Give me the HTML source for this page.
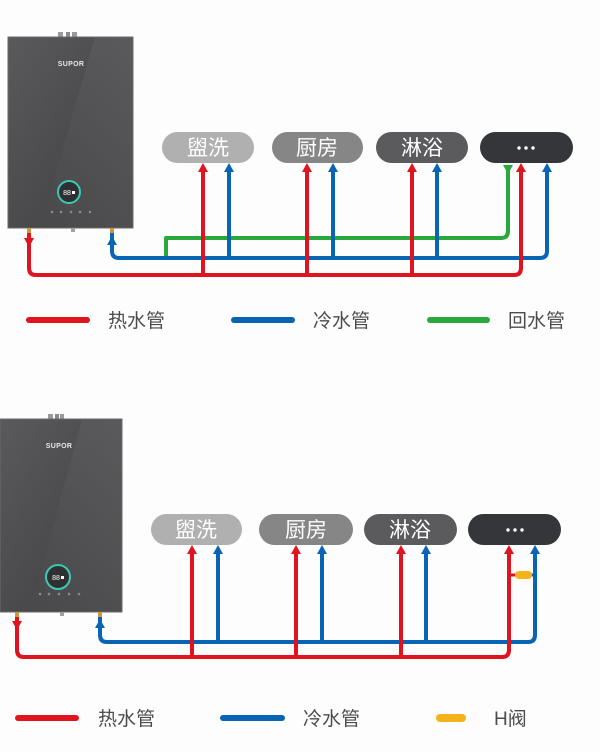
<!DOCTYPE html>
<html>
<head>
<meta charset="utf-8">
<style>
  html,body{margin:0;padding:0;background:#fdfdfd;}
  svg{display:block;}
  .pill{font-family:"Liberation Sans","Noto Sans CJK SC",sans-serif;font-size:21px;fill:#ffffff;}
  .leg{font-family:"Liberation Sans","Noto Sans CJK SC",sans-serif;font-size:19px;fill:#4c4c4c;}
  .logo{font-family:"Liberation Sans",sans-serif;font-size:7px;font-weight:bold;fill:#e8e8e8;letter-spacing:0.3px;}
</style>
</head>
<body>
<svg width="600" height="752" viewBox="0 0 600 752" xmlns="http://www.w3.org/2000/svg">
  <defs>
    <linearGradient id="hg" x1="0" y1="0" x2="1" y2="1">
      <stop offset="0" stop-color="#5a5a5c"/>
      <stop offset="0.5" stop-color="#4c4c4e"/>
      <stop offset="1" stop-color="#404042"/>
    </linearGradient>
    <linearGradient id="hl" x1="0" y1="0" x2="1" y2="0">
      <stop offset="0" stop-color="#ffffff" stop-opacity="0"/>
      <stop offset="1" stop-color="#ffffff" stop-opacity="0.08"/>
    </linearGradient>
  </defs>
  <rect width="600" height="752" fill="#fdfdfd"/>

  <!-- ================= TOP SECTION ================= -->
  <rect x="58" y="32" width="5" height="6" fill="#9a9a9a"/>
  <rect x="66" y="32" width="4" height="6" fill="#8a8a8a"/>
  <rect x="72" y="32" width="5" height="6" fill="#9a9a9a"/>
  <rect x="8" y="37" width="125" height="191" fill="url(#hg)"/>
  <polygon points="95,37 133,37 133,228 40,228" fill="url(#hl)"/>
  <rect x="8" y="37" width="125" height="191" fill="none" stroke="#6a6a6c" stroke-width="1"/>
  <text class="logo" x="71" y="66" text-anchor="middle">SUPOR</text>
  <circle cx="69" cy="192" r="11" fill="#2e3032" stroke="#3ccab6" stroke-width="2"/>
  <text x="67" y="195" font-family="Liberation Sans,sans-serif" font-size="7" fill="#ffffff" text-anchor="middle">88</text>
  <rect x="72" y="191" width="3" height="3" fill="#ffffff"/>
  <g fill="#8a8a8c"><circle cx="52" cy="212" r="1.3"/><circle cx="61" cy="212" r="1.3"/><circle cx="71" cy="212" r="1.3"/><circle cx="80" cy="212" r="1.3"/><circle cx="90" cy="212" r="1.3"/></g>
  <rect x="27" y="228" width="4" height="5" fill="#c89a3a"/>
  <rect x="71" y="228" width="4" height="4" fill="#a0a0a0"/>
  <rect x="110" y="228" width="4" height="5" fill="#c89a3a"/>

  <rect x="162" y="132" width="92" height="31" rx="15.5" fill="#b0b0b0"/>
  <text class="pill" x="208" y="155" text-anchor="middle">盥洗</text>
  <rect x="272" y="132" width="91" height="31" rx="15.5" fill="#868686"/>
  <text class="pill" x="317" y="155" text-anchor="middle">厨房</text>
  <rect x="376" y="132" width="92" height="31" rx="15.5" fill="#5b5b5d"/>
  <text class="pill" x="422" y="155" text-anchor="middle">淋浴</text>
  <rect x="480" y="132" width="93" height="31" rx="15.5" fill="#35363a"/>
  <g fill="#ffffff"><circle cx="519" cy="148" r="1.7"/><circle cx="526" cy="148" r="1.7"/><circle cx="533" cy="148" r="1.7"/></g>

  <g fill="none" stroke-width="4" stroke-linejoin="round">
    <path d="M166,258 V238 H501 Q508,238 508,231 V165" stroke="#2aa83c"/>
    <path d="M112,233 V251 Q112,258 119,258 H540 Q547,258 547,251 V168" stroke="#0a64b4"/>
    <path d="M229,258 V168 M333,258 V168 M437,258 V168" stroke="#0a64b4"/>
    <path d="M29,233 V268 Q29,275 36,275 H514 Q521,275 521,268 V168" stroke="#e0141e"/>
    <path d="M203,275 V168 M307,275 V168 M412,275 V168" stroke="#e0141e"/>
  </g>
  <g fill="#e0141e">
    <polygon points="203,163 198,172 208,172"/>
    <polygon points="307,163 302,172 312,172"/>
    <polygon points="412,163 407,172 417,172"/>
    <polygon points="521,163 516,172 526,172"/>
    <polygon points="29,247 24,238 34,238"/>
  </g>
  <g fill="#0a64b4">
    <polygon points="229,163 224,172 234,172"/>
    <polygon points="333,163 328,172 338,172"/>
    <polygon points="437,163 432,172 442,172"/>
    <polygon points="547,163 542,172 552,172"/>
    <polygon points="112,236 107,245 117,245"/>
  </g>
  <polygon points="508,174 503,165 513,165" fill="#2aa83c"/>

  <line x1="29" y1="320" x2="87" y2="320" stroke="#e0141e" stroke-width="6" stroke-linecap="round"/>
  <text class="leg" x="108" y="327">热水管</text>
  <line x1="234" y1="320" x2="292" y2="320" stroke="#0a64b4" stroke-width="6" stroke-linecap="round"/>
  <text class="leg" x="313" y="327">冷水管</text>
  <line x1="430" y1="320" x2="487" y2="320" stroke="#2aa83c" stroke-width="6" stroke-linecap="round"/>
  <text class="leg" x="508" y="327">回水管</text>

  <!-- ================= BOTTOM SECTION ================= -->
  <rect x="48" y="414" width="5" height="6" fill="#9a9a9a"/>
  <rect x="55" y="414" width="4" height="6" fill="#8a8a8a"/>
  <rect x="60" y="414" width="4" height="6" fill="#9a9a9a"/>
  <rect x="0" y="419" width="122" height="193" fill="url(#hg)"/>
  <polygon points="82,419 122,419 122,612 30,612" fill="url(#hl)"/>
  <rect x="0" y="419" width="122" height="193" fill="none" stroke="#6a6a6c" stroke-width="1"/>
  <text class="logo" x="59" y="448" text-anchor="middle">SUPOR</text>
  <circle cx="58" cy="577" r="12" fill="#2e3032" stroke="#3ccab6" stroke-width="2"/>
  <text x="56" y="580" font-family="Liberation Sans,sans-serif" font-size="7" fill="#ffffff" text-anchor="middle">88</text>
  <rect x="61" y="576" width="3" height="3" fill="#ffffff"/>
  <g fill="#8a8a8c"><circle cx="40" cy="594" r="1.3"/><circle cx="49" cy="594" r="1.3"/><circle cx="59" cy="594" r="1.3"/><circle cx="69" cy="594" r="1.3"/><circle cx="79" cy="594" r="1.3"/></g>
  <rect x="15" y="612" width="4" height="5" fill="#c89a3a"/>
  <rect x="60" y="612" width="4" height="4" fill="#a0a0a0"/>
  <rect x="98" y="612" width="4" height="5" fill="#c89a3a"/>

  <rect x="151" y="514" width="91" height="31" rx="15.5" fill="#b0b0b0"/>
  <text class="pill" x="196" y="537" text-anchor="middle">盥洗</text>
  <rect x="259" y="514" width="94" height="31" rx="15.5" fill="#868686"/>
  <text class="pill" x="306" y="537" text-anchor="middle">厨房</text>
  <rect x="364" y="514" width="93" height="31" rx="15.5" fill="#5b5b5d"/>
  <text class="pill" x="410" y="537" text-anchor="middle">淋浴</text>
  <rect x="468" y="514" width="93" height="31" rx="15.5" fill="#35363a"/>
  <g fill="#ffffff"><circle cx="508" cy="530" r="1.7"/><circle cx="515" cy="530" r="1.7"/><circle cx="522" cy="530" r="1.7"/></g>

  <g fill="none" stroke-width="4" stroke-linejoin="round">
    <path d="M100,617 V635 Q100,642 107,642 H528 Q535,642 535,635 V550" stroke="#0a64b4"/>
    <path d="M218,642 V550 M322,642 V550 M426,642 V550" stroke="#0a64b4"/>
    <path d="M17,617 V650 Q17,657 24,657 H502 Q509,657 509,650 V550" stroke="#e0141e"/>
    <path d="M192,657 V550 M296,657 V550 M401,657 V550" stroke="#e0141e"/>
    <path d="M509,575 H520" stroke="#e0141e" stroke-width="3"/>
    <path d="M528,575 H535" stroke="#0a64b4" stroke-width="3"/>
  </g>
  <rect x="515" y="571" width="17" height="8" rx="4" fill="#f6b21a"/>
  <g fill="#e0141e">
    <polygon points="192,545 187,554 197,554"/>
    <polygon points="296,545 291,554 301,554"/>
    <polygon points="401,545 396,554 406,554"/>
    <polygon points="509,545 504,554 514,554"/>
    <polygon points="17,630 12,621 22,621"/>
  </g>
  <g fill="#0a64b4">
    <polygon points="218,545 213,554 223,554"/>
    <polygon points="322,545 317,554 327,554"/>
    <polygon points="426,545 421,554 431,554"/>
    <polygon points="535,545 530,554 540,554"/>
    <polygon points="100,619 95,628 105,628"/>
  </g>

  <line x1="18" y1="718" x2="76" y2="718" stroke="#e0141e" stroke-width="6" stroke-linecap="round"/>
  <text class="leg" x="98" y="725">热水管</text>
  <line x1="223" y1="718" x2="282" y2="718" stroke="#0a64b4" stroke-width="6" stroke-linecap="round"/>
  <text class="leg" x="303" y="725">冷水管</text>
  <line x1="440" y1="718" x2="462" y2="718" stroke="#f6b21a" stroke-width="8" stroke-linecap="round"/>
  <text class="leg" x="494" y="725">H阀</text>
</svg>
</body>
</html>
